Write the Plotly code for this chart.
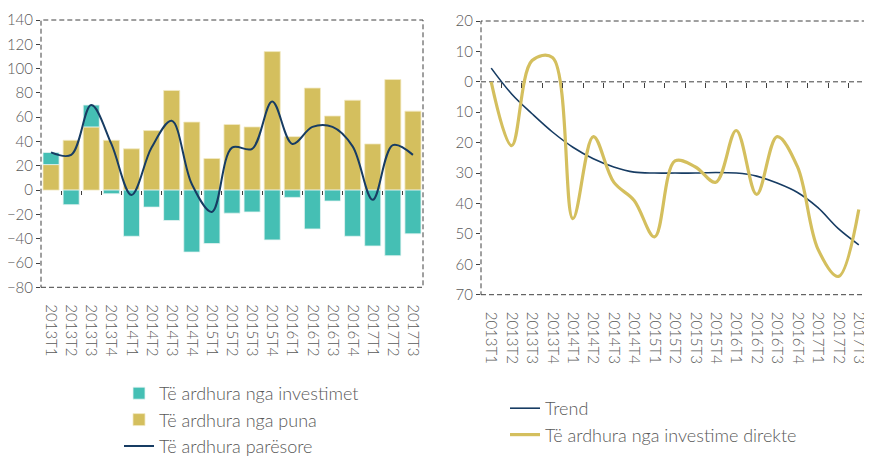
import plotly.graph_objects as go

periods = ["2013T1", "2013T2", "2013T3", "2013T4", "2014T1", "2014T2", "2014T3", "2014T4",
           "2015T1", "2015T2", "2015T3", "2015T4", "2016T1", "2016T2", "2016T3", "2016T4",
           "2017T1", "2017T2", "2017T3"]

# left chart
investimet = [10, -12, 18, -3, -38, -14, -25, -51, -44, -19, -18, -41, -6, -32, -9, -38, -46, -54, -36]
puna = [21, 41, 52, 41, 34, 49, 82, 56, 26, 54, 52, 114, 44, 84, 61, 74, 38, 91, 65]
paresore = [31, 29, 70, 38, -4, 35, 57, 5, -18, 35, 34, 73, 38, 52, 52, 36, -8, 37, 29]

# right chart
trend = [4.5, -4, -10.5, -16.5, -21.5, -25.3, -28, -29.7, -30, -30, -30, -29.8, -30, -31,
         -33.3, -36.4, -41.4, -48.3, -53.6]
investime_direkte = [0, -21, 7, 8, -45, -18, -33, -39, -51, -26, -28, -33, -16, -37, -18, -28,
                     -55, -64, -42]

left_ticks = list(range(-80, 141, 20))
right_ticks = list(range(-70, 21, 10))
right_ticktext = [str(abs(v)) for v in right_ticks]
n = len(periods)

TEAL = "#45BFB4"
YELLOW = "#D4BF5E"
NAVY = "#173C63"
GREY = "#595959"
DASH = "#404040"
FONT = "Lato"

# the page body has an 8px margin, so the figure is drawn 8px in from the window corner
OFF = 8
W, H = 872 - OFF, 460 - OFF

def px_x(p):
    return (p - OFF) / W

def px_y(p):
    return 1 - (p - OFF) / H

fig = go.Figure()

# puna drawn first so a positive investimet value stacks on top of it
fig.add_trace(go.Bar(x=periods, y=puna, name="Të ardhura nga puna",
                     marker=dict(color=YELLOW, line=dict(color="#F2EAC4", width=0.8)),
                     xaxis="x", yaxis="y", legend="legend", legendgroup="b", legendrank=2))
fig.add_trace(go.Bar(x=periods, y=investimet, name="Të ardhura nga investimet",
                     marker=dict(color=TEAL, line=dict(color="#E6F4F2", width=0.8)),
                     xaxis="x", yaxis="y", legend="legend", legendgroup="a", legendrank=1))
fig.add_trace(go.Scatter(x=periods, y=paresore, name="Të ardhura parësore", mode="lines",
                         line=dict(color=NAVY, width=2, shape="spline", smoothing=1),
                         xaxis="x", yaxis="y", legend="legend", legendgroup="c", legendrank=3))

fig.add_trace(go.Scatter(x=periods, y=trend, name="Trend", mode="lines",
                         line=dict(color=NAVY, width=1.6, shape="spline", smoothing=1),
                         xaxis="x2", yaxis="y2", legend="legend2", legendgroup="d"))
fig.add_trace(go.Scatter(x=periods, y=investime_direkte, name="Të ardhura nga investime direkte",
                         mode="lines",
                         line=dict(color=YELLOW, width=3.2, shape="spline", smoothing=1),
                         xaxis="x2", yaxis="y2", legend="legend2", legendgroup="e"))

# invisible helpers so the zero-line tick axes get drawn
fig.add_trace(go.Scatter(x=[0], y=[0], mode="markers", marker=dict(opacity=0), showlegend=False,
                         hoverinfo="skip", xaxis="x3", yaxis="y"))
fig.add_trace(go.Scatter(x=[0], y=[0], mode="markers", marker=dict(opacity=0), showlegend=False,
                         hoverinfo="skip", xaxis="x4", yaxis="y2"))

ldom_x = [px_x(41), px_x(423)]
ldom_y = [px_y(287.3), px_y(20)]
rdom_x = [px_x(481), px_x(869)]
rdom_y = [px_y(294.7), px_y(21)]

left_zero = ldom_y[0] + (0 - (-80)) / 220 * (ldom_y[1] - ldom_y[0])
right_zero = rdom_y[0] + (0 - (-70)) / 90 * (rdom_y[1] - rdom_y[0])

tickfont = dict(family=FONT, size=15, color=GREY, weight=300)
xlabfont = dict(family=FONT, size=15, color=GREY, weight=300)
legfont = dict(family=FONT, size=18, color=GREY, weight=300)
cat_range = [-0.5, n - 0.5]
boundaries = [i + 0.5 for i in range(n - 1)]

fig.update_layout(
    width=W, height=H,
    margin=dict(l=0, r=0, t=0, b=0, autoexpand=False),
    paper_bgcolor="white", plot_bgcolor="white",
    barmode="relative", bargap=0.2,
    font=dict(family=FONT, color=GREY),
    showlegend=True,
    xaxis=dict(domain=ldom_x, anchor="y", type="category", range=cat_range, showline=False,
               showgrid=False, tickangle=90, ticks="outside", ticklen=13,
               tickcolor="rgba(0,0,0,0)", tickfont=xlabfont, automargin=False),
    yaxis=dict(domain=ldom_y, anchor="x", range=[-80, 140], tickvals=left_ticks,
               showgrid=False, zeroline=False, showline=False, ticks="outside", ticklen=4,
               tickcolor=DASH, tickfont=tickfont, automargin=False),
    xaxis3=dict(overlaying="x", anchor="free", position=left_zero, range=cat_range,
                tickvals=boundaries, ticks="outside", ticklen=4,
                tickcolor=DASH, showticklabels=False, showgrid=False, showline=False,
                zeroline=False, automargin=False),
    xaxis2=dict(domain=rdom_x, anchor="y2", type="category", range=cat_range, showline=False,
                showgrid=False, tickangle=90, ticks="outside", ticklen=13,
                tickcolor="rgba(0,0,0,0)", tickfont=xlabfont, automargin=False),
    yaxis2=dict(domain=rdom_y, anchor="x2", range=[-70, 20], tickvals=right_ticks,
                ticktext=right_ticktext, showgrid=False, zeroline=False, showline=False,
                ticks="outside", ticklen=4, tickcolor=DASH, tickfont=tickfont,
                automargin=False),
    xaxis4=dict(overlaying="x2", anchor="free", position=right_zero, range=cat_range,
                tickvals=boundaries, ticks="outside", ticklen=5,
                tickcolor=DASH, showticklabels=False, showgrid=False, showline=False,
                zeroline=False, automargin=False),
    legend=dict(x=px_x(119), y=px_y(375), xanchor="left", yanchor="top",
                font=legfont, tracegroupgap=10, itemwidth=30,
                bgcolor="rgba(0,0,0,0)", traceorder="normal"),
    legend2=dict(x=px_x(505), y=px_y(390), xanchor="left", yanchor="top",
                 font=legfont, tracegroupgap=2, itemwidth=30,
                 bgcolor="rgba(0,0,0,0)", traceorder="normal"),
    shapes=[
        dict(type="rect", xref="x domain", yref="y domain", x0=0, x1=1, y0=0, y1=1,
             line=dict(color=DASH, width=1, dash="5px,3px"), layer="above"),
        dict(type="rect", xref="x2 domain", yref="y2 domain", x0=0, x1=1, y0=0, y1=1,
             line=dict(color=DASH, width=1, dash="5px,3px"), layer="above"),
        dict(type="line", xref="x2 domain", yref="y2", x0=0, x1=1, y0=0, y1=0,
             line=dict(color=DASH, width=1, dash="5px,3px"), layer="below"),
    ],
)

fig.write_html("out.html")
